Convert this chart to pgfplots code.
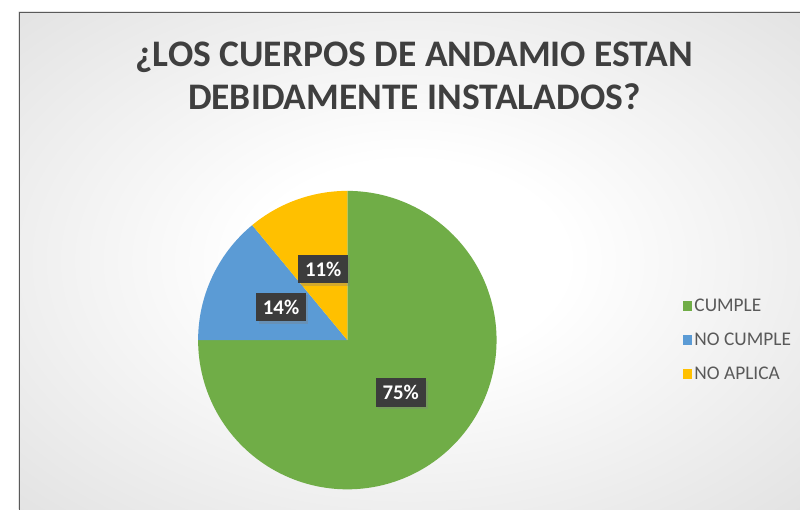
\documentclass[border=0pt]{standalone}
\usepackage{pgfplots}
\usepackage{pgfplotstable}
\pgfplotsset{compat=1.18}
\usepackage{fontspec}
\setmainfont{Carlito}
\usetikzlibrary{shadows}
\definecolor{cgreen}{HTML}{70AD47}
\definecolor{cblue}{HTML}{5B9BD5}
\definecolor{cyellow}{HTML}{FFC000}
\definecolor{titlegray}{HTML}{3F3F3F}
\definecolor{leggray}{HTML}{595959}
\definecolor{boxgray}{HTML}{3C3C3C}
\definecolor{bggray}{HTML}{C6C6C6}
\definecolor{framegray}{HTML}{5A5A5A}
\pgfdeclareradialshading{bgshade}{\pgfpoint{0bp}{0bp}}{color(0bp)=(white); color(10bp)=(white); color(62bp)=(bggray); color(75bp)=(bggray)}
\tikzset{labelbox/.style={fill=boxgray, text=white, font=\fontsize{21}{23}\selectfont\bfseries,
    minimum width=50pt, minimum height=29pt, inner sep=0pt,
    drop shadow={opacity=0.35, shadow xshift=2.5pt, shadow yshift=-2.5pt}}}
\pgfplotsset{pielegend/.style={legend image code/.code={\fill[#1,draw=none] (0pt,-5pt) rectangle (10pt,5pt);}}}

\pgfplotstableread{
label value
CUMPLE 75
{NO CUMPLE} 14
{NO APLICA} 11
}\piedata

\begin{document}
\pgfplotstablegetelem{0}{value}\of\piedata \let\va\pgfplotsretval
\pgfplotstablegetelem{1}{value}\of\piedata \let\vb\pgfplotsretval
\pgfplotstablegetelem{2}{value}\of\piedata \let\vc\pgfplotsretval
\pgfmathsetmacro\aA{90-3.6*\va}
\pgfmathsetmacro\aB{\aA-3.6*\vb}
\pgfmathsetmacro\aC{\aB-3.6*\vc}
\begin{tikzpicture}
\useasboundingbox (0pt,0pt) rectangle (800pt,514pt);
\clip (0pt,0pt) rectangle (800pt,514pt);
\fill[white] (0pt,0pt) rectangle (800pt,514pt);
\shade[shading=bgshade] (12pt,0pt) rectangle (800pt,502pt);
\draw[framegray, line width=1.6pt] (12.8pt,-5pt) -- (12.8pt,501.2pt) -- (810pt,501.2pt);
% title
\node[anchor=base, text=titlegray, font=\fontsize{37.8}{43}\selectfont\bfseries, inner sep=0pt] at (411pt,447pt) {¿LOS CUERPOS DE ANDAMIO ESTAN};
\node[anchor=base, text=titlegray, font=\fontsize{37.8}{43}\selectfont\bfseries, inner sep=0pt] at (411pt,404pt) {DEBIDAMENTE INSTALADOS?};
\begin{axis}[
  at={(193pt,20.5pt)}, anchor=south west,
  scale only axis, width=301pt, height=301pt,
  xmin=-1, xmax=1, ymin=-1, ymax=1,
  hide axis, clip=false,
  legend style={at={(axis cs:2.245,0)}, anchor=west, draw=none, fill=none,
    inner sep=0pt, font=\fontsize{19.5}{22}\selectfont, text=leggray,
    row sep=16pt, cells={anchor=west}},
  legend cell align=left,
  pielegend,
]
\addplot[fill=cgreen, draw=none, domain=\aA:90, samples=150, forget plot] ({cos(x)},{sin(x)}) -- (axis cs:0,0) -- cycle;
\addplot[fill=cblue, draw=none, domain=\aB:\aA, samples=40, forget plot] ({cos(x)},{sin(x)}) -- (axis cs:0,0) -- cycle;
\addplot[fill=cyellow, draw=none, domain=\aC:\aB, samples=40, forget plot] ({cos(x)},{sin(x)}) -- (axis cs:0,0) -- cycle;
\addlegendimage{fill=cgreen}\addlegendentry{CUMPLE}
\addlegendimage{fill=cblue}\addlegendentry{NO CUMPLE}
\addlegendimage{fill=cyellow}\addlegendentry{NO APLICA}
\node[labelbox] at (axis cs:0.358,-0.351) {\va\%};
\node[labelbox] at (axis cs:-0.444,0.222) {\vb\%};
\node[labelbox] at (axis cs:-0.162,0.477) {\vc\%};
\end{axis}
\end{tikzpicture}
\end{document}
